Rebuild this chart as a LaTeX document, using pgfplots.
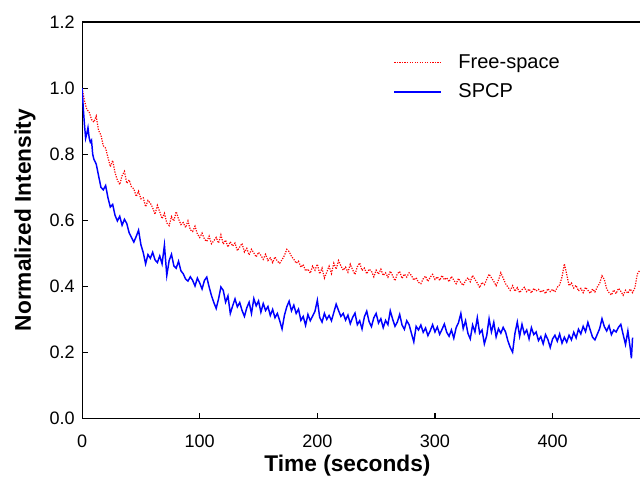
\documentclass[border=0pt]{standalone}
\usepackage{fontspec}
\setmainfont{Liberation Sans}
\usepackage{pgfplots}
\pgfplotsset{compat=1.18}

\begin{document}
\begin{tikzpicture}
\begin{axis}[
    scale only axis,
    width=418.5pt,
    height=297pt,
    xmin=0, xmax=475,
    ymin=0, ymax=1.2,
    xtick={0,100,200,300,400},
    ytick={0,0.2,0.4,0.6,0.8,1.0,1.2},
    /pgf/number format/assume math mode=true,
    tick align=inside,
    xtick pos=bottom,
    ytick pos=left,
    major tick length=4.5pt,
    tick style={black, line width=0.8pt},
    axis line style={line width=0.8pt},
    tick label style={font=\fontsize{13.5}{16}\selectfont},
    xticklabel style={yshift=-9pt},
    yticklabel style={xshift=-2pt, /pgf/number format/fixed,
        /pgf/number format/fixed zerofill, /pgf/number format/precision=1},
    xlabel={Time (seconds)},
    ylabel={Normalized Intensity},
    label style={font=\fontsize{17}{20}\selectfont\bfseries},
    xlabel style={at={(axis description cs:0.475,-0.119)}, anchor=center},
    ylabel style={at={(axis description cs:-0.102,0.5)}, anchor=center},
    legend cell align=left,
    legend style={at={(0.557,0.925)}, anchor=north west, draw=none, fill=none,
        font=\fontsize{15}{18}\selectfont, inner sep=0pt, row sep=6pt,
        /tikz/every odd column/.append style={column sep=10.5pt}},
    legend image code/.code={\draw[#1] (0pt,0pt) -- (35pt,0pt);},
]
\addplot[red, densely dotted, line width=0.9pt] coordinates {
(0,1.000) (2,0.962) (4,0.935) (6,0.928) (8,0.905) (10,0.897) (12,0.915) (14,0.872)
(16,0.858) (18,0.826) (20,0.818) (22,0.790) (24,0.762) (26,0.781) (28,0.744) (30,0.721)
(32,0.708) (34,0.735) (36,0.748) (38,0.712) (40,0.722) (42,0.701) (44,0.695) (46,0.672)
(48,0.688) (50,0.665) (52,0.668) (54,0.641) (56,0.660) (58,0.652) (60,0.638) (62,0.618)
(64,0.645) (66,0.626) (68,0.605) (70,0.621) (72,0.592) (74,0.584) (76,0.611) (78,0.598)
(80,0.626) (82,0.604) (84,0.587) (86,0.593) (88,0.578) (90,0.598) (92,0.571) (94,0.566)
(96,0.582) (98,0.559) (100,0.548) (102,0.561) (104,0.543) (106,0.536) (108,0.552) (110,0.529)
(112,0.538) (114,0.548) (116,0.531) (118,0.556) (120,0.528) (122,0.540) (124,0.519) (126,0.535)
(128,0.522) (130,0.531) (132,0.508) (134,0.519) (136,0.530) (138,0.504) (140,0.515) (142,0.495)
(144,0.512) (146,0.501) (148,0.489) (150,0.503) (152,0.494) (154,0.482) (156,0.497) (158,0.478)
(160,0.486) (162,0.472) (164,0.489) (166,0.476) (168,0.470) (170,0.481) (172,0.493) (174,0.512)
(176,0.505) (178,0.491) (180,0.482) (182,0.470) (184,0.476) (186,0.458) (188,0.466) (190,0.447)
(192,0.452) (194,0.440) (196,0.461) (198,0.449) (200,0.467) (202,0.438) (204,0.455) (206,0.425)
(208,0.443) (210,0.461) (212,0.439) (214,0.470) (216,0.452) (218,0.478) (220,0.462) (222,0.449)
(224,0.458) (226,0.443) (228,0.467) (230,0.450) (232,0.436) (234,0.459) (236,0.471) (238,0.448)
(240,0.455) (242,0.438) (244,0.452) (246,0.446) (248,0.429) (250,0.449) (252,0.437) (254,0.452)
(256,0.433) (258,0.441) (260,0.428) (262,0.446) (264,0.432) (266,0.417) (268,0.438) (270,0.445)
(272,0.424) (274,0.437) (276,0.428) (278,0.441) (280,0.433) (282,0.419) (284,0.426) (286,0.412)
(288,0.408) (290,0.423) (292,0.431) (294,0.415) (296,0.428) (298,0.436) (300,0.421) (302,0.429)
(304,0.418) (306,0.433) (308,0.420) (310,0.426) (312,0.414) (314,0.430) (316,0.419) (318,0.408)
(320,0.424) (322,0.411) (324,0.403) (326,0.417) (328,0.426) (330,0.414) (332,0.433) (334,0.421)
(336,0.410) (338,0.396) (340,0.412) (342,0.405) (344,0.421) (346,0.437) (348,0.426) (350,0.415)
(352,0.402) (354,0.419) (356,0.441) (358,0.425) (360,0.408) (362,0.398) (364,0.388) (366,0.402)
(368,0.385) (370,0.396) (372,0.381) (374,0.390) (376,0.397) (378,0.384) (380,0.392) (382,0.380)
(384,0.394) (386,0.386) (388,0.391) (390,0.382) (392,0.389) (394,0.378) (396,0.393) (398,0.384)
(400,0.391) (402,0.383) (404,0.397) (406,0.405) (408,0.428) (410,0.468) (412,0.437) (414,0.402)
(416,0.410) (418,0.395) (420,0.403) (422,0.386) (424,0.394) (426,0.381) (428,0.397) (430,0.388)
(432,0.379) (434,0.392) (436,0.383) (438,0.398) (440,0.409) (442,0.432) (444,0.421) (446,0.392)
(448,0.381) (450,0.374) (452,0.389) (454,0.378) (456,0.394) (458,0.385) (460,0.373) (462,0.388)
(464,0.379) (466,0.392) (468,0.381) (470,0.396) (472,0.437) (474,0.448)
};
\addlegendentry{Free-space}
\addplot[blue, line width=1.1pt] coordinates {
(0,1.00) (1,0.94) (2,0.89) (3,0.848) (4,0.862) (5,0.880) (6,0.850) (7,0.836) (8,0.842) (9,0.800)
(10,0.785) (12,0.770) (14,0.735) (16,0.700) (18,0.692) (20,0.705) (22,0.668) (24,0.640)
(26,0.648) (28,0.615) (30,0.598) (32,0.612) (34,0.585) (36,0.603) (38,0.590) (40,0.562)
(42,0.548) (44,0.534) (46,0.551) (48,0.570) (50,0.526) (52,0.502) (54,0.468) (56,0.496)
(58,0.485) (60,0.503) (62,0.480) (64,0.472) (66,0.492) (68,0.468) (70,0.525) (72,0.433)
(74,0.478) (76,0.497) (78,0.462) (80,0.455) (82,0.476) (84,0.447) (86,0.438) (88,0.422)
(90,0.416) (92,0.429) (94,0.418) (96,0.401) (98,0.425) (100,0.410) (102,0.392) (104,0.418)
(106,0.428) (108,0.398) (110,0.372) (112,0.351) (114,0.333) (116,0.362) (118,0.398) (120,0.388)
(122,0.352) (124,0.371) (126,0.318) (128,0.341) (130,0.362) (132,0.338) (134,0.351) (136,0.327)
(138,0.309) (140,0.335) (142,0.352) (144,0.318) (146,0.363) (148,0.341) (150,0.356) (152,0.322)
(154,0.348) (156,0.327) (158,0.339) (160,0.312) (162,0.330) (164,0.305) (166,0.318) (168,0.296)
(170,0.271) (172,0.312) (174,0.338) (176,0.355) (178,0.326) (180,0.343) (182,0.318) (184,0.331)
(186,0.297) (188,0.309) (190,0.282) (192,0.315) (194,0.296) (196,0.310) (198,0.325) (200,0.358)
(202,0.306) (204,0.292) (206,0.318) (208,0.300) (210,0.312) (212,0.296) (214,0.321) (216,0.346)
(218,0.327) (220,0.309) (222,0.318) (224,0.298) (226,0.313) (228,0.287) (230,0.306) (232,0.319)
(234,0.284) (236,0.296) (238,0.271) (240,0.308) (242,0.325) (244,0.293) (246,0.278) (248,0.305)
(250,0.318) (252,0.289) (254,0.302) (256,0.275) (258,0.297) (260,0.284) (262,0.326) (264,0.301)
(266,0.279) (268,0.292) (270,0.315) (272,0.283) (274,0.270) (276,0.296) (278,0.284) (280,0.258)
(282,0.232) (284,0.279) (286,0.268) (288,0.283) (290,0.261) (292,0.274) (294,0.251) (296,0.266)
(298,0.284) (300,0.262) (302,0.277) (304,0.255) (306,0.270) (308,0.286) (310,0.261) (312,0.249)
(314,0.268) (316,0.243) (318,0.275) (320,0.290) (322,0.318) (324,0.272) (326,0.296) (328,0.258)
(330,0.241) (332,0.283) (334,0.262) (336,0.305) (338,0.258) (340,0.268) (342,0.226) (344,0.251)
(346,0.302) (348,0.262) (350,0.291) (352,0.247) (354,0.272) (356,0.258) (358,0.276) (360,0.262)
(362,0.235) (364,0.215) (366,0.201) (368,0.258) (370,0.292) (372,0.249) (374,0.285) (376,0.256)
(378,0.268) (380,0.241) (382,0.275) (384,0.254) (386,0.262) (388,0.236) (390,0.248) (392,0.226)
(394,0.254) (396,0.239) (398,0.215) (400,0.241) (402,0.252) (404,0.234) (406,0.256) (408,0.228)
(410,0.246) (412,0.231) (414,0.252) (416,0.238) (418,0.261) (420,0.244) (422,0.270) (424,0.256)
(426,0.279) (428,0.263) (430,0.291) (432,0.268) (434,0.246) (436,0.238) (438,0.255) (440,0.272)
(442,0.302) (444,0.278) (446,0.265) (448,0.281) (450,0.254) (452,0.268) (454,0.262) (456,0.276)
(458,0.285) (460,0.254) (462,0.224) (464,0.265) (466,0.213) (467,0.182) (468,0.245)
};
\addlegendentry{SPCP}
\end{axis}
\pgfresetboundingbox
\path ([xshift=-61.5pt,yshift=-44.25pt]current axis.south west)
  rectangle ([xshift=-0.6pt,yshift=16.5pt]current axis.north east);
\end{tikzpicture}
\end{document}
